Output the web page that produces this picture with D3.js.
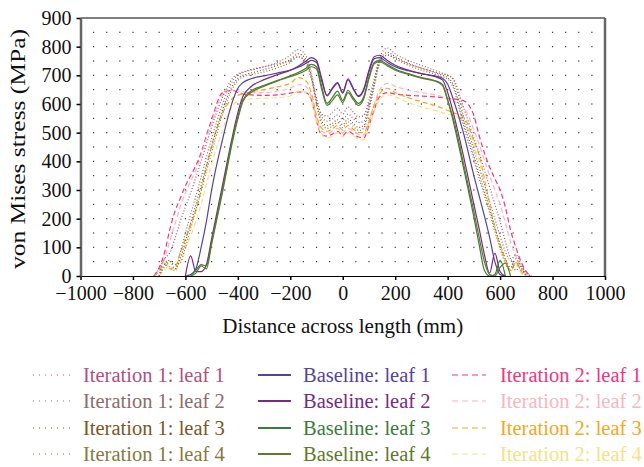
<!DOCTYPE html>
<html>
<head>
<meta charset="utf-8">
<script src="https://cdn.jsdelivr.net/npm/d3@7"></script>
<style>
  body { margin: 0; background: #fff; }
</style>
</head>
<body>
<script>
// Данные: общая сетка по x (мм) и значения напряжений (МПа) для каждой кривой.
const xs = [-720,-700,-680,-660,-640,-620,
  -600,-580,-560,-540,-520,-500,
  -460,-420,-400,-380,-350,-300,-250,
  -200,-170,-140,-120,-100,-80,-60,-40,-20,
  0,20,40,60,80,100,120,140,
  170,200,250,300,350,380,400,420,460,500,
  520,540,560,580,600,620,640,660,680,700,720];

const baselineLeaf1 = [null,null,null,null,null,null,
  0,5,25,100,190,300,
  470,610,655,675,688,698,708,
  718,728,742,752,745,680,628,652,672,
  638,684,652,626,648,712,758,762,
  745,730,716,706,698,690,670,620,500,350,
  280,210,135,50,5,0,null,null,null,null,null];
const baselineLeaf2 = [null,null,null,null,null,null,
  0,70,15,15,40,130,
  310,490,570,628,660,685,702,
  718,732,750,762,752,688,630,655,675,
  640,688,655,628,652,718,765,770,
  752,735,718,706,696,684,640,575,420,250,
  165,75,10,80,15,0,null,null,null,null,null];
const baselineLeaf3 = [null,null,null,null,null,null,
  null,0,20,40,35,120,
  295,480,555,615,645,665,682,
  698,710,725,738,730,660,602,622,645,
  612,648,622,602,625,695,745,752,
  738,722,706,692,682,668,615,545,380,205,
  110,20,0,5,55,0,null,null,null,null,null];
const baselineLeaf4 = [null,null,null,null,null,null,
  null,0,10,35,25,110,
  285,470,548,610,640,662,680,
  695,705,718,730,722,650,595,612,632,
  605,640,615,595,618,688,740,748,
  733,718,703,690,680,665,612,555,395,225,
  135,50,5,0,30,45,0,null,null,null,null];

const iter1Leaf1 = [0,25,60,80,130,190,
  240,290,345,400,460,520,
  620,690,705,712,720,730,740,
  752,765,740,690,615,565,558,570,585,
  565,590,572,555,560,615,690,745,
  770,760,740,725,712,705,700,690,590,480,
  430,370,310,250,190,120,60,20,35,10,0];
const iter1Leaf2 = [null,0,60,30,20,80,
  150,215,280,345,415,480,
  595,680,700,710,718,730,745,
  770,790,768,710,620,555,540,548,562,
  545,565,550,535,540,600,680,760,
  795,775,752,735,718,708,700,688,560,440,
  380,320,260,200,140,85,55,75,40,5,null];
const iter1Leaf3 = [null,0,40,55,25,60,
  120,185,250,315,385,450,
  575,665,690,700,708,720,735,
  755,775,755,700,605,540,525,532,545,
  528,548,532,518,525,588,670,748,
  780,765,742,725,710,700,692,670,540,420,
  355,295,235,170,110,60,30,60,30,0,null];
const iter1Leaf4 = [null,0,30,50,40,45,
  100,165,230,295,365,430,
  560,655,682,695,702,712,726,
  745,765,748,692,598,530,515,522,535,
  518,538,522,508,515,578,660,738,
  772,758,735,718,705,695,688,660,525,405,
  340,280,220,155,95,45,20,45,20,0,null];

const iter2Leaf1 = [0,30,80,160,225,270,
  315,350,385,430,490,545,
  638,648,640,635,632,630,632,
  638,642,640,615,540,492,488,495,505,
  490,505,495,485,482,525,580,625,
  640,635,630,628,625,622,620,618,612,560,
  490,430,380,340,300,240,160,100,50,15,0];
const iter2Leaf2 = [0,20,60,120,180,240,
  290,330,370,420,480,535,
  630,648,645,642,640,640,645,
  655,668,660,625,550,505,498,505,515,
  500,515,505,495,492,540,600,648,
  672,662,648,640,632,625,618,610,590,510,
  460,405,350,300,250,185,120,70,30,5,0];
const iter2Leaf3 = [0,15,45,25,30,80,
  130,180,230,300,380,455,
  565,620,630,636,642,650,660,
  672,692,680,640,560,515,505,512,525,
  508,525,512,500,500,540,595,635,
  655,640,622,608,595,585,578,570,555,470,
  420,340,250,170,110,60,20,50,15,0,null];
const iter2Leaf4 = [null,0,20,35,15,50,
  95,140,190,250,320,390,
  505,595,610,615,618,620,622,
  628,645,640,610,540,495,482,488,500,
  485,500,490,478,475,515,575,615,
  632,625,605,590,578,570,565,560,540,455,
  400,325,240,165,100,50,15,40,10,0,null];

const xTicks = [-1000,-800,-600,-400,-200,0,200,400,600,800,1000];
const yTicks = [0,100,200,300,400,500,600,700,800,900];

// Описание серий: подпись, цвет, тип линии, место в легенде.
const series = [
  {name: 'Iteration 2: leaf 1', values: iter2Leaf1, color: '#f0367f', dash: '5,3', col: 2, row: 0},
  {name: 'Iteration 2: leaf 2', values: iter2Leaf2, color: '#f8b6c0', dash: '5,3', col: 2, row: 1},
  {name: 'Iteration 2: leaf 3', values: iter2Leaf3, color: '#f7a620', dash: '5,3', col: 2, row: 2},
  {name: 'Iteration 2: leaf 4', values: iter2Leaf4, color: '#f5e285', dash: '5,3', col: 2, row: 3},
  {name: 'Iteration 1: leaf 1', values: iter1Leaf1, color: '#b0507f', dash: '1,2', col: 0, row: 0},
  {name: 'Iteration 1: leaf 2', values: iter1Leaf2, color: '#8e6b6b', dash: '1,2', col: 0, row: 1},
  {name: 'Iteration 1: leaf 3', values: iter1Leaf3, color: '#7d5624', dash: '1,2', col: 0, row: 2},
  {name: 'Iteration 1: leaf 4', values: iter1Leaf4, color: '#867941', dash: '1,2', col: 0, row: 3},
  {name: 'Baseline: leaf 1', values: baselineLeaf1, color: '#54449a', dash: null, col: 1, row: 0},
  {name: 'Baseline: leaf 2', values: baselineLeaf2, color: '#7a2a82', dash: null, col: 1, row: 1},
  {name: 'Baseline: leaf 3', values: baselineLeaf3, color: '#3a7d3a', dash: null, col: 1, row: 2},
  {name: 'Baseline: leaf 4', values: baselineLeaf4, color: '#5f7a2a', dash: null, col: 1, row: 3}
];

const FONT = '"Liberation Serif", "Times New Roman", serif';

// Размеры и поля.
const width = 644, height = 467;
const margin = { top: 18, right: 39, bottom: 191, left: 80.5 };
const innerWidth = width - margin.left - margin.right;
const innerHeight = height - margin.top - margin.bottom;

const svg = d3.select('body').append('svg')
  .attr('width', width)
  .attr('height', height);

const root = svg.append('g')
  .attr('transform', `translate(${margin.left},${margin.top})`);

// Шкалы.
const xScale = d3.scaleLinear().domain([-1000, 1000]).range([0, innerWidth]);
const yScale = d3.scaleLinear().domain([0, 900]).range([innerHeight, 0]);

// Точечная сетка.
const gridX = d3.range(-950, 1000, 50);
const gridY = d3.range(50, 900, 50);
const gridLayer = root.append('g');
gridY.forEach(v => {
  gridLayer.selectAll(null)
    .data(gridX)
    .enter()
    .append('rect')
    .attr('x', d => xScale(d) - 0.6)
    .attr('y', yScale(v) - 0.6)
    .attr('width', 1.2)
    .attr('height', 1.2)
    .attr('fill', '#333');
});

// Кривые.
const line = d3.line()
  .defined(d => d[1] !== null)
  .x(d => xScale(d[0]))
  .y(d => yScale(d[1]))
  .curve(d3.curveMonotoneX);

root.append('g').selectAll('path')
  .data(series)
  .enter()
  .append('path')
  .attr('d', s => line(xs.map((x, i) => [x, s.values[i]])))
  .attr('fill', 'none')
  .attr('stroke', s => s.color)
  .attr('stroke-width', 1.2)
  .attr('stroke-dasharray', s => s.dash);

// Рамка: верх чёрный, правый бок серый.
root.append('line').attr('x1', 0).attr('x2', innerWidth).attr('y1', 0).attr('y2', 0)
  .attr('stroke', '#000').attr('stroke-width', 1.2);
root.append('line').attr('x1', innerWidth).attr('x2', innerWidth).attr('y1', 0).attr('y2', innerHeight)
  .attr('stroke', '#666').attr('stroke-width', 2.5);

// Оси.
const xAxis = root.append('g')
  .attr('transform', `translate(0,${innerHeight})`)
  .call(d3.axisBottom(xScale).tickValues(xTicks).tickFormat(d3.format('d'))
    .tickSize(4).tickPadding(6).tickSizeOuter(0));
const yAxis = root.append('g')
  .call(d3.axisLeft(yScale).tickValues(yTicks).tickFormat(d3.format('d'))
    .tickSize(4).tickPadding(5).tickSizeOuter(0));

[xAxis, yAxis].forEach(ax => {
  ax.attr('font-family', null);
  ax.selectAll('text').attr('font-size', 20).attr('fill', '#111')
    .style('font-family', FONT);
  ax.selectAll('.tick line').attr('stroke', '#000').attr('stroke-width', 1.5);
});
xAxis.select('.domain').attr('stroke', '#000').attr('stroke-width', 1.2);
yAxis.select('.domain').attr('stroke', '#666').attr('stroke-width', 2.5);

// Подписи осей.
svg.append('text')
  .attr('x', margin.left + xScale(0))
  .attr('y', 333)
  .attr('text-anchor', 'middle')
  .attr('font-size', 21)
  .attr('fill', '#111')
  .style('font-family', FONT)
  .text('Distance across length (mm)');

svg.append('text')
  .attr('transform', `translate(25,${margin.top + innerHeight / 2 + 2}) rotate(-90)`)
  .attr('text-anchor', 'middle')
  .attr('font-size', 21)
  .attr('fill', '#111')
  .attr('textLength', 240)
  .attr('lengthAdjust', 'spacingAndGlyphs')
  .style('font-family', FONT)
  .text('von Mises stress (MPa)');

// Легенда.
const legendCols = [{x1: 33, x2: 70, tx: 83}, {x1: 258, x2: 291, tx: 303}, {x1: 452, x2: 486, tx: 500}];
const legendRows = [375, 401, 428, 454];
const legend = svg.append('g').selectAll('g')
  .data(series)
  .enter()
  .append('g');

legend.append('line')
  .attr('x1', s => legendCols[s.col].x1)
  .attr('x2', s => legendCols[s.col].x2)
  .attr('y1', s => legendRows[s.row])
  .attr('y2', s => legendRows[s.row])
  .attr('stroke', s => s.color)
  .attr('stroke-width', s => s.dash ? 1.2 : 2)
  .attr('stroke-dasharray', s => s.dash ? (s.col === 0 ? '1,5' : '6,4') : null);

legend.append('text')
  .attr('x', s => legendCols[s.col].tx)
  .attr('y', s => legendRows[s.row] + 7)
  .attr('font-size', 20.5)
  .attr('fill', s => s.color)
  .style('font-family', FONT)
  .text(s => s.name);
</script>
</body>
</html>
